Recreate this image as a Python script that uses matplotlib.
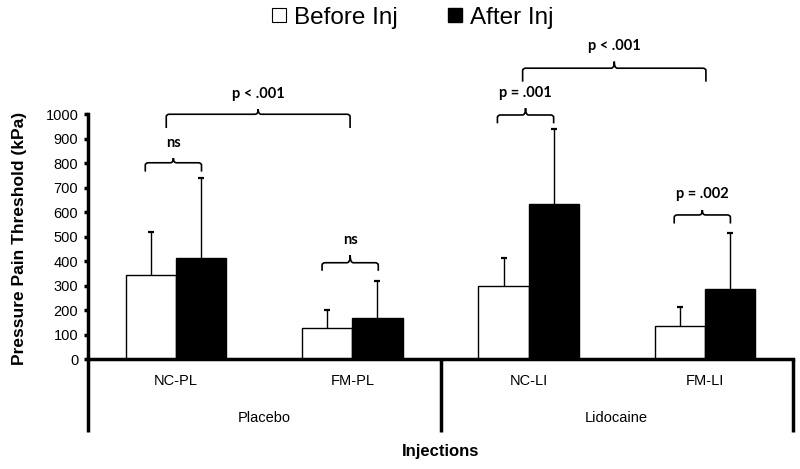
import numpy as np
import matplotlib
matplotlib.use('Agg')
import matplotlib.pyplot as plt
from matplotlib.path import Path
from matplotlib.patches import PathPatch
from matplotlib.lines import Line2D

plt.rcParams['font.family'] = ['Liberation Sans', 'DejaVu Sans']

# data
categories = ['NC-PL', 'FM-PL', 'NC-LI', 'FM-LI']
groups = ['Placebo', 'Lidocaine']
before = [343, 125, 299, 136]
before_err = [176, 75, 113, 75]
after = [411, 166, 631, 284]
after_err = [326, 152, 308, 231]

# brackets: x0, x1, tip y, line y, mid y, label
braces = [
    (-0.175, 0.144, 765, 801, 820, 'ns'),
    (0.828, 1.147, 360, 393, 424, 'ns'),
    (-0.056, 0.987, 943, 999, 1020, 'p < .001'),
    (1.823, 2.142, 962, 996, 1024, 'p = .001'),
    (1.966, 3.006, 1132, 1187, 1214, 'p < .001'),
    (2.826, 3.145, 553, 588, 608, 'p = .002'),
]

fig = plt.figure(figsize=(8, 4.69), dpi=100)
ax = fig.add_axes([0.11, 0.2345, 0.88125, 0.5224])

x = np.arange(len(categories))
w = 0.285
ax.bar(x - w / 2, before, w, color='white', edgecolor='black', linewidth=1)
ax.bar(x + w / 2, after, w, color='black', edgecolor='black', linewidth=1)

# upper error bars only
for xs, vals, errs in [(x - w / 2, before, before_err), (x + w / 2, after, after_err)]:
    tops = np.array(vals) + np.array(errs)
    ax.vlines(xs, vals, tops, color='black', lw=1)
    ax.plot(xs, tops, linestyle='none', marker='_', markersize=5,
            markeredgewidth=1.6, color='black')

ax.set_xlim(-0.5, 3.5)
ax.set_ylim(0, 1000)
ax.set_yticks(range(0, 1001, 100))
ax.tick_params(axis='y', direction='out', length=3, width=2.5, labelsize=10.5, pad=4)
ax.set_xticks(x)
ax.set_xticklabels(categories)
ax.tick_params(axis='x', length=0, labelsize=10.5, pad=11)
for s in ['top', 'right']:
    ax.spines[s].set_visible(False)
ax.spines['left'].set_linewidth(2.5)
ax.spines['bottom'].set_linewidth(2.5)

# group dividers below axis
for xa in [0, 0.5, 1]:
    ax.plot([xa, xa], [0, -0.298], transform=ax.transAxes, color='black',
            lw=2.5, clip_on=False, solid_capstyle='butt')
for i, g in enumerate(groups):
    ax.text(0.5 + 2 * i, -0.241, g, transform=ax.get_xaxis_transform(),
            ha='center', va='center', fontsize=10.5)
ax.text(0.5, -0.376, 'Injections', transform=ax.transAxes, ha='center',
        va='center', fontsize=12, fontweight='bold')
fig.text(0.025, 0.492, 'Pressure Pain Threshold (kPa)', rotation=90,
         ha='center', va='center', fontsize=12.5, fontweight='bold')


def brace(x0, x1, ytip, yline, ymid, label):
    rx, ry = 0.018, 10
    xm = (x0 + x1) / 2
    verts = [(x0, ytip), (x0, yline - ry), (x0, yline), (x0 + rx, yline),
             (xm - rx, yline), (xm, yline), (xm, ymid),
             (xm, yline), (xm + rx, yline),
             (x1 - rx, yline), (x1, yline), (x1, yline - ry), (x1, ytip)]
    codes = [Path.MOVETO, Path.LINETO, Path.CURVE3, Path.CURVE3,
             Path.LINETO, Path.CURVE3, Path.CURVE3,
             Path.CURVE3, Path.CURVE3,
             Path.LINETO, Path.CURVE3, Path.CURVE3, Path.LINETO]
    ax.add_patch(PathPatch(Path(verts, codes), facecolor='none',
                           edgecolor='black', lw=1.2, clip_on=False))
    ax.text(xm, ymid + 35, label, ha='center', va='bottom', fontsize=10.5,
            fontweight='bold', family=['Lato', 'DejaVu Sans'], clip_on=False)


for b in braces:
    brace(*b)

handles = [Line2D([], [], marker='s', linestyle='none', markersize=9.5,
                  markerfacecolor='white', markeredgecolor='black', markeredgewidth=0.8),
           Line2D([], [], marker='s', linestyle='none', markersize=9.5,
                  markerfacecolor='black', markeredgecolor='black')]
fig.legend(handles, ['Before Inj', 'After Inj'], loc='center',
           bbox_to_anchor=(0.515, 0.962), ncol=2, frameon=False, fontsize=17.5,
           handletextpad=0.25, columnspacing=2.0, handlelength=0.7)

fig.savefig('out.png', dpi=100)
